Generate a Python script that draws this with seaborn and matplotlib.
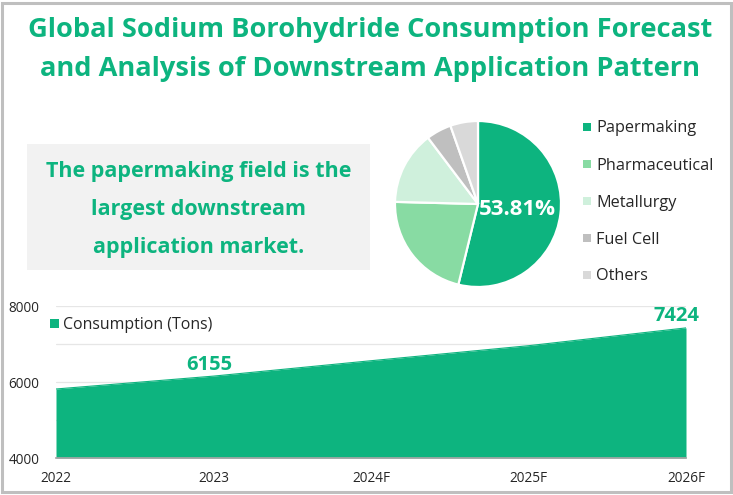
import matplotlib
matplotlib.use("Agg")
import matplotlib.pyplot as plt
from matplotlib.patches import Rectangle
import seaborn as sns
import pandas as pd

W, H = 733, 495
GREEN = "#0DB47F"

years = ["2022", "2023", "2024F", "2025F", "2026F"]
consumption = [5816, 6155, 6560, 6955, 7424]
labelled_years = ["2023", "2026F"]
y_ticks = [4000, 6000, 8000]
grid_minor = [5000, 7000]

segments = ["Papermaking", "Pharmaceutical", "Metallurgy", "Fuel Cell", "Others"]
shares = [53.81, 21.6, 14.3, 4.9, 5.39]
pie_colors = ["#0DB47F", "#88DBA3", "#CFF0DC", "#BFBFBF", "#D9D9D9"]

title_lines = ["Global Sodium Borohydride Consumption Forecast",
               "and Analysis of Downstream Application Pattern"]
note_lines = ["The papermaking field is the", "largest downstream", "application market."]

sns.set_theme(style="white")
plt.rcParams["font.family"] = ["Open Sans", "DejaVu Sans"]


def fx(px):
    return px / W


def fy(px):
    return 1 - px / H


def put_axes(fig, left, top, right, bottom):
    return fig.add_axes([fx(left), fy(bottom), (right - left) / W, (bottom - top) / H])


fig = plt.figure(figsize=(W / 100, H / 100), dpi=100, facecolor="white")

# outer frame and grey note box
fig.add_artist(Rectangle((fx(1.5), fy(491.5)), 729 / W, 488.5 / H, transform=fig.transFigure,
                         fill=False, edgecolor="#BFBFBF", linewidth=2.2))
fig.add_artist(Rectangle((fx(27), fy(270)), 343 / W, 126 / H, transform=fig.transFigure,
                         facecolor="#F2F2F2", edgecolor="none"))

for line, py in zip(title_lines, [30, 69]):
    fig.text(fx(370.5), fy(py), line, color=GREEN, fontsize=19.6, fontweight="bold", ha="center", va="center")
for line, py in zip(note_lines, [171, 209, 248]):
    fig.text(fx(198.5), fy(py), line, color=GREEN, fontsize=15.5, fontweight="bold", ha="center", va="center")

# pie
ax_pie = put_axes(fig, 395, 121, 561, 287)
ax_pie.pie(shares, colors=pie_colors, startangle=90, counterclock=False, radius=1,
           wedgeprops={"edgecolor": "white", "linewidth": 1.6})
ax_pie.set_xlim(-1, 1)
ax_pie.set_ylim(-1, 1)
ax_pie.text(0.48, -0.07, f"{shares[0]:.2f}%", color="white", fontsize=16, fontweight="bold",
            ha="center", va="center")

for name, color, py in zip(segments, pie_colors, [127, 164, 201, 238, 275]):
    fig.add_artist(Rectangle((fx(583), fy(py + 4)), 8 / W, 8 / H, transform=fig.transFigure,
                             facecolor=color, edgecolor="none"))
    fig.text(fx(596), fy(py + 1.5), name, color="#262626", fontsize=11.7, ha="left", va="center")

# area
df = pd.DataFrame({"year": years, "tons": consumption})
df["pos"] = range(len(df))
ax = put_axes(fig, 56, 306, 686, 458)
ax.set_facecolor("none")
sns.lineplot(data=df, x="pos", y="tons", color=GREEN, linewidth=0.8, ax=ax)
ax.fill_between(df["pos"], df["tons"], y_ticks[0], color=GREEN, linewidth=0, zorder=3)
ax.set_xlim(0, len(df) - 1)
ax.set_ylim(y_ticks[0], y_ticks[-1])
ax.set_xlabel("")
ax.set_ylabel("")
ax.set_xticks(df["pos"], years)
ax.set_yticks(y_ticks)
ax.tick_params(axis="both", length=0, labelsize=9.8, labelcolor="#262626")
ax.tick_params(axis="x", pad=9)
ax.tick_params(axis="y", pad=12)
for val in y_ticks + grid_minor:
    ax.axhline(val, color="#E6E6E6", linewidth=0.9, zorder=1)
for side in ["top", "right", "left"]:
    ax.spines[side].set_visible(False)
ax.spines["bottom"].set_color("#A6A6A6")
ax.spines["bottom"].set_zorder(4)
for (_, row), shift in zip(df[df["year"].isin(labelled_years)].iterrows(), [-3, -7]):
    ax.annotate(str(row["tons"]), (row["pos"], row["tons"]), xytext=(shift, 1), textcoords="offset points",
                color=GREEN, fontsize=14.5, fontweight="bold", ha="center", va="bottom",
                annotation_clip=False, zorder=5)

fig.add_artist(Rectangle((fx(50), fy(328)), 9 / W, 9 / H, transform=fig.transFigure,
                         facecolor=GREEN, edgecolor="none"))
fig.text(fx(63), fy(325), "Consumption (Tons)", color="#262626", fontsize=11.4, ha="left", va="center")

fig.savefig("out.png", dpi=100)
